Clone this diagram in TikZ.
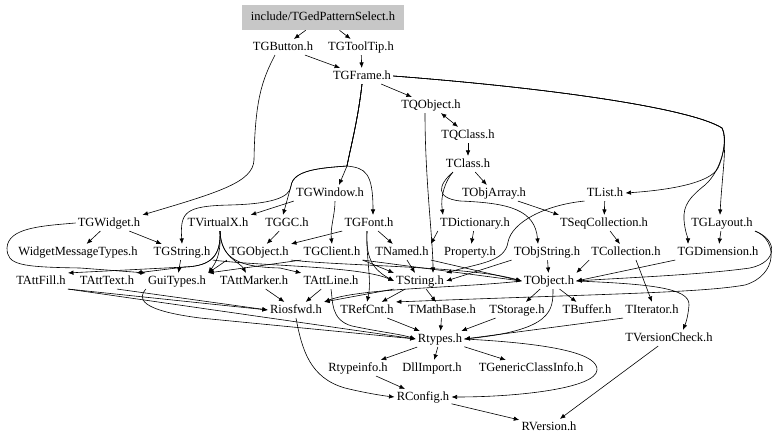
\documentclass[tikz,border=0pt]{standalone}
\usepackage{fontspec}
\setmainfont{Liberation Serif}
\usetikzlibrary{arrows.meta}

\tikzset{
  hfile/.style={inner sep=2pt,text height=9pt,text depth=2.5pt,font=\fontsize{12.5}{14}\selectfont},
  hroot/.style={hfile,fill=black!22,minimum width=162pt,minimum height=25pt}
}

\begin{document}
\begin{tikzpicture}[->,>={Latex[length=5.5pt,width=4.5pt]},semithick,x=1pt,y=-1pt]
    \useasboundingbox (0,0) rectangle (779,443);
    \node[hroot] (SEL) at (323,17.5) {include/TGedPatternSelect.h};
    \node[hfile] (GB)  at (283,47)  {TGButton.h};
    \node[hfile] (TT)  at (361,47)  {TGToolTip.h};
    \node[hfile] (GF)  at (362,76)  {TGFrame.h};
    \node[hfile] (QO)  at (431,105) {TQObject.h};
    \node[hfile] (QC)  at (468,135) {TQClass.h};
    \node[hfile] (CL)  at (468,164) {TClass.h};
    \node[hfile] (GW)  at (330,193) {TGWindow.h};
    \node[hfile] (OA)  at (494,193) {TObjArray.h};
    \node[hfile] (LI)  at (605,193) {TList.h};
    \node[hfile] (WI)  at (109,223) {TGWidget.h};
    \node[hfile] (VX)  at (218,223) {TVirtualX.h};
    \node[hfile] (GC)  at (287,223) {TGGC.h};
    \node[hfile] (FO)  at (369,223) {TGFont.h};
    \node[hfile] (DI)  at (475,223) {TDictionary.h};
    \node[hfile] (SC)  at (604,223) {TSeqCollection.h};
    \node[hfile] (GL)  at (722,223) {TGLayout.h};
    \node[hfile] (WM)  at (78,252)  {WidgetMessageTypes.h};
    \node[hfile] (GS)  at (182,252) {TGString.h};
    \node[hfile] (GO)  at (259,252) {TGObject.h};
    \node[hfile] (CI)  at (332,252) {TGClient.h};
    \node[hfile] (NA)  at (402,252) {TNamed.h};
    \node[hfile] (PR)  at (470,252) {Property.h};
    \node[hfile] (OS)  at (547,252) {TObjString.h};
    \node[hfile] (CO)  at (626,252) {TCollection.h};
    \node[hfile] (GD)  at (718,252) {TGDimension.h};
    \node[hfile] (AF)  at (41,281)  {TAttFill.h};
    \node[hfile] (AT)  at (107,281) {TAttText.h};
    \node[hfile] (GU)  at (177,281) {GuiTypes.h};
    \node[hfile] (AM)  at (254,281) {TAttMarker.h};
    \node[hfile] (AL)  at (331,281) {TAttLine.h};
    \node[hfile] (ST)  at (420,281) {TString.h};
    \node[hfile] (OB)  at (549,281) {TObject.h};
    \node[hfile] (IO)  at (296,310) {Riosfwd.h};
    \node[hfile] (RC)  at (367,310) {TRefCnt.h};
    \node[hfile] (MB)  at (442,310) {TMathBase.h};
    \node[hfile] (SO)  at (517,310) {TStorage.h};
    \node[hfile] (BU)  at (587,310) {TBuffer.h};
    \node[hfile] (IT)  at (652,310) {TIterator.h};
    \node[hfile] (RT)  at (440,339) {Rtypes.h};
    \node[hfile] (VC)  at (669,338) {TVersionCheck.h};
    \node[hfile] (RI)  at (358,368) {Rtypeinfo.h};
    \node[hfile] (DL)  at (432,368) {DllImport.h};
    \node[hfile] (GI)  at (531,368) {TGenericClassInfo.h};
    \node[hfile] (CF)  at (423,397) {RConfig.h};
    \node[hfile] (RV)  at (549,427) {RVersion.h};
    \path
      (SEL) edge (GB)
      (SEL) edge (TT)
      (GB) edge (GF)
      (TT) edge (GF)
      (GF) edge (QO)
      (QO) edge [<->] (QC)
      (QC) edge (CL)
      (CL) edge (OA)
      (OA) edge ([xshift=-45pt]SC.north)
      (LI) edge (SC)
      (GW.south west) edge (VX.north east)
      (FO.south west) edge (GO.north east)
      (GC) edge (GO)
      (FO) edge (NA)
      (DI.south west) edge (NA.north east)
      (DI) edge (PR)
      (SC) edge (CO)
      (GL) edge (GD)
      (GD.south west) edge (OB.east)
      (CO.south west) edge (OB.north east)
      ([xshift=10pt]CO.south) edge (IT.north)
      (OS) edge (OB)
      (OS.south west) edge (ST.east)
      (NA) edge (ST)
      (NA.south east) edge (OB.west)
      (CI.south east) edge (ST.north west)
      (CI.south east) edge (OB.west)
      (CI.south west) edge (GU.north east)
      (GO.south west) edge (GU.north east)
      (GS) edge (GU)
      (WI) edge (WM)
      (WI) edge (GS)
      (AM) edge (IO)
      (AL) edge (IO)
      (AF.south east) edge (IO.west)
      (AF.south east) edge (RT.west)
      ([xshift=10pt]AT.south) edge (IO.west)
      (ST) edge (RC)
      (ST) edge (MB)
      (ST.south west) edge (IO.north east)
      (OB) edge (SO)
      (OB) edge (BU)
      (SO) edge (RT)
      (MB) edge (RT)
      (RC) edge (RT)
      (IT.south west) edge (RT.east)
      (RT) edge (RI)
      (RT) edge (DL)
      (RT) edge (GI)
      (RI) edge (CF)
      (CF) edge (RV)
      (VC) edge (RV);
    \draw ([xshift=-8pt]GB.south) .. controls (262,80) and (255,100) .. (254,160) .. controls (253,182) and (220,192) .. (WI.north east);
    \draw (GF.east) .. controls (550,88) and (690,108) .. (722,128) .. controls (728,138) and (722,160) .. (718,168) .. controls (710,183) and (670,190) .. (LI.east);
    \draw (GF.east) .. controls (550,88) and (690,108) .. (722,128) .. controls (728,140) and (722,175) .. ([xshift=-2pt]GL.north);
    \draw (GF.east) .. controls (550,88) and (690,108) .. (722,128) .. controls (728,140) and (722,170) .. (705,185) .. controls (690,197) and (683,205) .. (684,220) .. controls (685,232) and (688,238) .. ([xshift=-30pt]GD.north);
    \draw (GF.south) .. controls (358,120) and (350,150) .. (347,166) -- ([xshift=9pt]GW.north);
    \draw (GF.south) .. controls (358,120) and (350,150) .. (347,166) .. controls (365,168) and (373,172) .. ([xshift=4pt]FO.north);
    \draw (GF.south) .. controls (358,120) and (350,150) .. (347,166) .. controls (320,168) and (293,170) .. (291,186) .. controls (290,198) and (270,204) .. (230,205) .. controls (185,206) and (180,212) .. (GS.north);
    \draw (GF.south) .. controls (358,120) and (350,150) .. (347,166) .. controls (320,168) and (293,170) .. (291,186) -- ([xshift=-4pt]GC.north);
    \draw ([xshift=5pt]GW.south) .. controls (335,215) and (330,228) .. (CI.north);
    \draw ([xshift=-2pt]FO.south) .. controls (366,255) and (370,268) .. (ST.west);
    \draw ([xshift=-2pt]FO.south) .. controls (366,260) and (372,280) .. (RC.north);
    \draw ([xshift=-6pt]QO.south) .. controls (425,180) and (433,240) .. ([xshift=13pt]ST.north);
    \draw ([xshift=-15pt]CL.south) .. controls (446,180) and (440,195) .. ([xshift=-32pt]DI.north);
    \draw ([xshift=-15pt]CL.south) .. controls (438,185) and (435,198) .. (460,201) .. controls (510,203) and (535,210) .. ([xshift=-9pt]OS.north);
    \draw (LI.south west) .. controls (545,205) and (512,222) .. (508,242) .. controls (505,262) and (480,263) .. (ST.north east);
    \draw (GL.south east) .. controls (778,240) and (778,262) .. (750,268) .. controls (700,275) and (620,278) .. (OB.east);
    \draw (GL.south east) .. controls (778,240) and (778,275) .. (745,285) .. controls (700,293) and (600,294) .. (RC.north east);
    \draw ([xshift=4pt]OB.south) .. controls (553,310) and (553,330) .. (RT.east);
    \draw (OB.east) .. controls (650,284) and (690,288) .. (689,305) .. controls (688,318) and (685,325) .. ([xshift=14pt]VC.north);
    \draw (OB.west) .. controls (460,288) and (360,288) .. (IO.north east);
    \draw (GU.south west) .. controls (138,298) and (138,310) .. (200,318) -- (RT.west);
    \draw (AL.south) .. controls (333,300) and (330,320) .. (352,326) .. controls (380,332) and (400,334) .. (RT.west);
    \draw (IO.south) .. controls (302,350) and (310,378) .. (345,388) .. controls (365,393) and (385,396) .. (CF.west);
    \draw (RT.east) .. controls (560,344) and (598,355) .. (597,370) .. controls (596,388) and (520,397) .. (CF.east);
    \draw (GS.south east) .. controls (260,266) and (360,266) .. (ST.west);
    \draw (GO.south east) .. controls (340,266) and (470,266) .. (OB.west);
    \draw (WI.west) .. controls (40,226) and (8,228) .. (7,248) .. controls (7,265) and (20,267) .. (80,268) -- (GU.north west);
    \draw ([xshift=2pt]VX.south) .. controls (221,255) and (212,266) .. (185,267) -- (AF.north east);
    \draw ([xshift=2pt]VX.south) .. controls (221,255) and (212,266) .. (185,267) -- (AT.north east);
    \draw ([xshift=2pt]VX.south) .. controls (221,250) and (218,260) .. (GU.north east);
    \draw ([xshift=2pt]VX.south) .. controls (221,258) and (240,262) .. ([xshift=-8pt]AM.north);
    \draw ([xshift=2pt]VX.south) .. controls (221,260) and (240,267) .. (280,268) -- (AL.north west);
\end{tikzpicture}
\end{document}
